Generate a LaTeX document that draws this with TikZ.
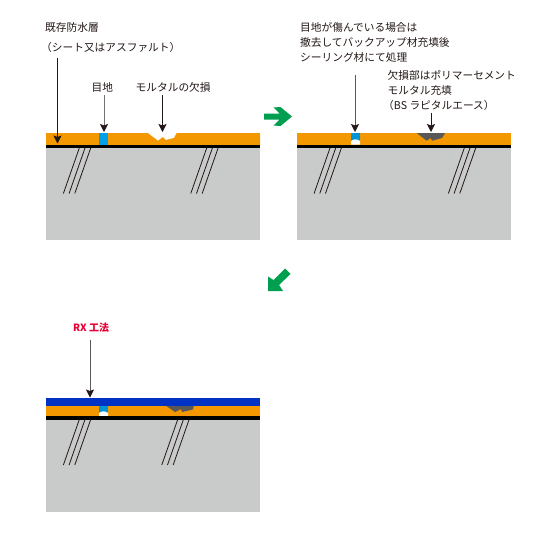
\documentclass[tikz,border=0pt]{standalone}
\usepackage{fontspec}
\setmainfont{Noto Sans CJK JP}
\usetikzlibrary{arrows.meta}
\definecolor{orangeL}{HTML}{F39800}
\definecolor{grayL}{HTML}{C9CACA}
\definecolor{blueL}{HTML}{0033C4}
\definecolor{jointB}{HTML}{00A0E9}
\definecolor{patch}{HTML}{595757}
\definecolor{ink}{HTML}{231815}
\definecolor{greenA}{HTML}{009E4F}
\definecolor{redT}{HTML}{E60033}
\tikzset{
  x=1pt,y=-1pt,
  lbl/.style={anchor=west,inner sep=0pt,text=ink,font=\fontsize{10.7}{12}\selectfont},
  base/.style={fill=grayL,draw=none},
  mortar/.style={fill=orangeL,draw=none},
  bar/.style={fill=black,draw=none},
  hline/.style={draw=ink,line width=0.8pt},
  arr/.style={draw=ink,line width=0.8pt,-{Stealth[length=8pt,width=8pt,inset=1.5pt]}},
  softarr/.style={draw=black!65,line width=0.8pt,-{Stealth[length=8pt,width=8pt,inset=1.5pt,color=ink]}},
  garrow/.style={fill=greenA,draw=none},
}
\newcommand{\hatchgroup}[3]{% x top, y top, y bottom
  \draw[hline] (#1,#2) -- ++({-(#3-#2)*0.35},#3-#2);
  \draw[hline] (#1+5.7,#2) -- ++({-(#3-#2)*0.35},#3-#2);
  \draw[hline] (#1+11.4,#2) -- ++({-(#3-#2)*0.35},#3-#2);
}
\newcommand{\fixedjoint}[2]{% x left, y top
  \begin{scope}
    \clip (#1,#2) rectangle ++(9,7.5);
    \fill[jointB] (#1,#2) rectangle ++(9,7.5);
    \foreach \k in {0,2.5,...,15}
      \draw[black!18!jointB,line width=0.4pt] (#1+\k-3,#2+7.5) -- ++(7.5,-7.5);
  \end{scope}
  \fill[white] (#1,#2+11.5) -- (#1,#2+8) .. controls (#1+3,#2+5.8) and (#1+6,#2+5.8) .. (#1+9,#2+8) -- (#1+9,#2+11.5) -- cycle;
}
\begin{document}
\begin{tikzpicture}
\useasboundingbox (0,0) rectangle (540,538);
\fill[white] (0,0) rectangle (540,538);

% Panel 1
\fill[base] (46,148) rectangle (260,240);
\fill[mortar] (46,133) -- (147.7,133) -- (158,140.7) -- (163,137) -- (165.7,140) -- (174,138) -- (176.7,133) -- (260,133) -- (260,145) -- (46,145) -- cycle;
\fill[jointB] (99,133) rectangle (108,144.5);
\fill[bar] (46,144.5) rectangle (260,148);
\hatchgroup{79.3}{148}{193.5}
\hatchgroup{206.7}{148}{193.5}

% Panel 2
\fill[base] (297,148) rectangle (511,240);
\fill[mortar] (297,133) rectangle (511,145);
\fixedjoint{351}{133}
\fill[patch] (416.7,133) -- (426.7,140.7) -- (430.7,138) -- (432,140.7) -- (442,138) -- (445,133) -- cycle;
\fill[bar] (297,144.5) rectangle (511,148);
\hatchgroup{330}{148}{193.5}
\hatchgroup{464.3}{148}{193.5}

% Panel 3
\fill[base] (46,419.5) rectangle (260,512);
\fill[mortar] (46,405) rectangle (260,416.5);
\fixedjoint{99}{405}
\fill[patch] (165,405) -- (175,412) -- (181,409) -- (182,412) -- (193,409.5) -- (194,405) -- cycle;
\fill[blueL] (46,397.5) rectangle (260,405.5);
\fill[bar] (46,416) rectangle (260,419.5);
\hatchgroup{79.3}{419.5}{465}
\hatchgroup{177.7}{419.5}{465}

% Labels
\node[lbl] (t1) at (45,27) {既存防水層};
\node[lbl] (t2) at (41,47) {（シート又はアスファルト）};
\node[lbl] (t3) at (91.5,87) {目地};
\node[lbl] (t4) at (135.5,87) {モルタルの欠損};
\node[lbl] (t5) at (300,27) {目地が傷んでいる場合は};
\node[lbl] (t6) at (300,42) {撤去してバックアップ材充填後};
\node[lbl] (t7) at (300,57) {シーリング材にて処理};
\node[lbl] (t8) at (387.5,75) {欠損部はポリマーセメント};
\node[lbl] (t9) at (387.5,90) {モルタル充填};
\node[lbl] (t10) at (383,105) {（BS ラピタルエース）};
\node[lbl,text=redT,font=\fontsize{10}{12}\selectfont\bfseries] (t11) at (73,327.5) {RX 工法};

% Connectors
\coordinate (a1s) at (57.5,58);  \coordinate (a1e) at (57.5,143.5);
\coordinate (a2s) at (104,95);   \coordinate (a2e) at (104,132);
\coordinate (a3s) at (162.5,95); \coordinate (a3e) at (162.5,132);
\coordinate (a4s) at (355,75);   \coordinate (a4e) at (355,132);
\coordinate (a5s) at (431,113);  \coordinate (a5e) at (431,132);
\coordinate (a6s) at (90,340);   \coordinate (a6e) at (90,397.5);
\draw[arr] (a1s) -- (a1e);
\draw[softarr,draw=black!55] (a2s) -- (a2e);
\draw[arr] (a3s) -- (a3e);
\draw[softarr] (a4s) -- (a4e);
\draw[arr] (a5s) -- (a5e);
\draw[softarr] (a6s) -- (a6e);

% Green arrows
\fill[garrow] (264,113.5) -- (279.5,113.5) -- (273.5,107.5) -- (280.5,107) -- (292,116.5) -- (280.5,126) -- (273.5,125.5) -- (279.5,119.5) -- (264,119.5) -- cycle;
\fill[garrow] (268,291) -- (268,276.5) -- (273.5,280) -- (285,268.5) -- (290.5,274) -- (279,285) -- (283,291) -- cycle;
\end{tikzpicture}
\end{document}
